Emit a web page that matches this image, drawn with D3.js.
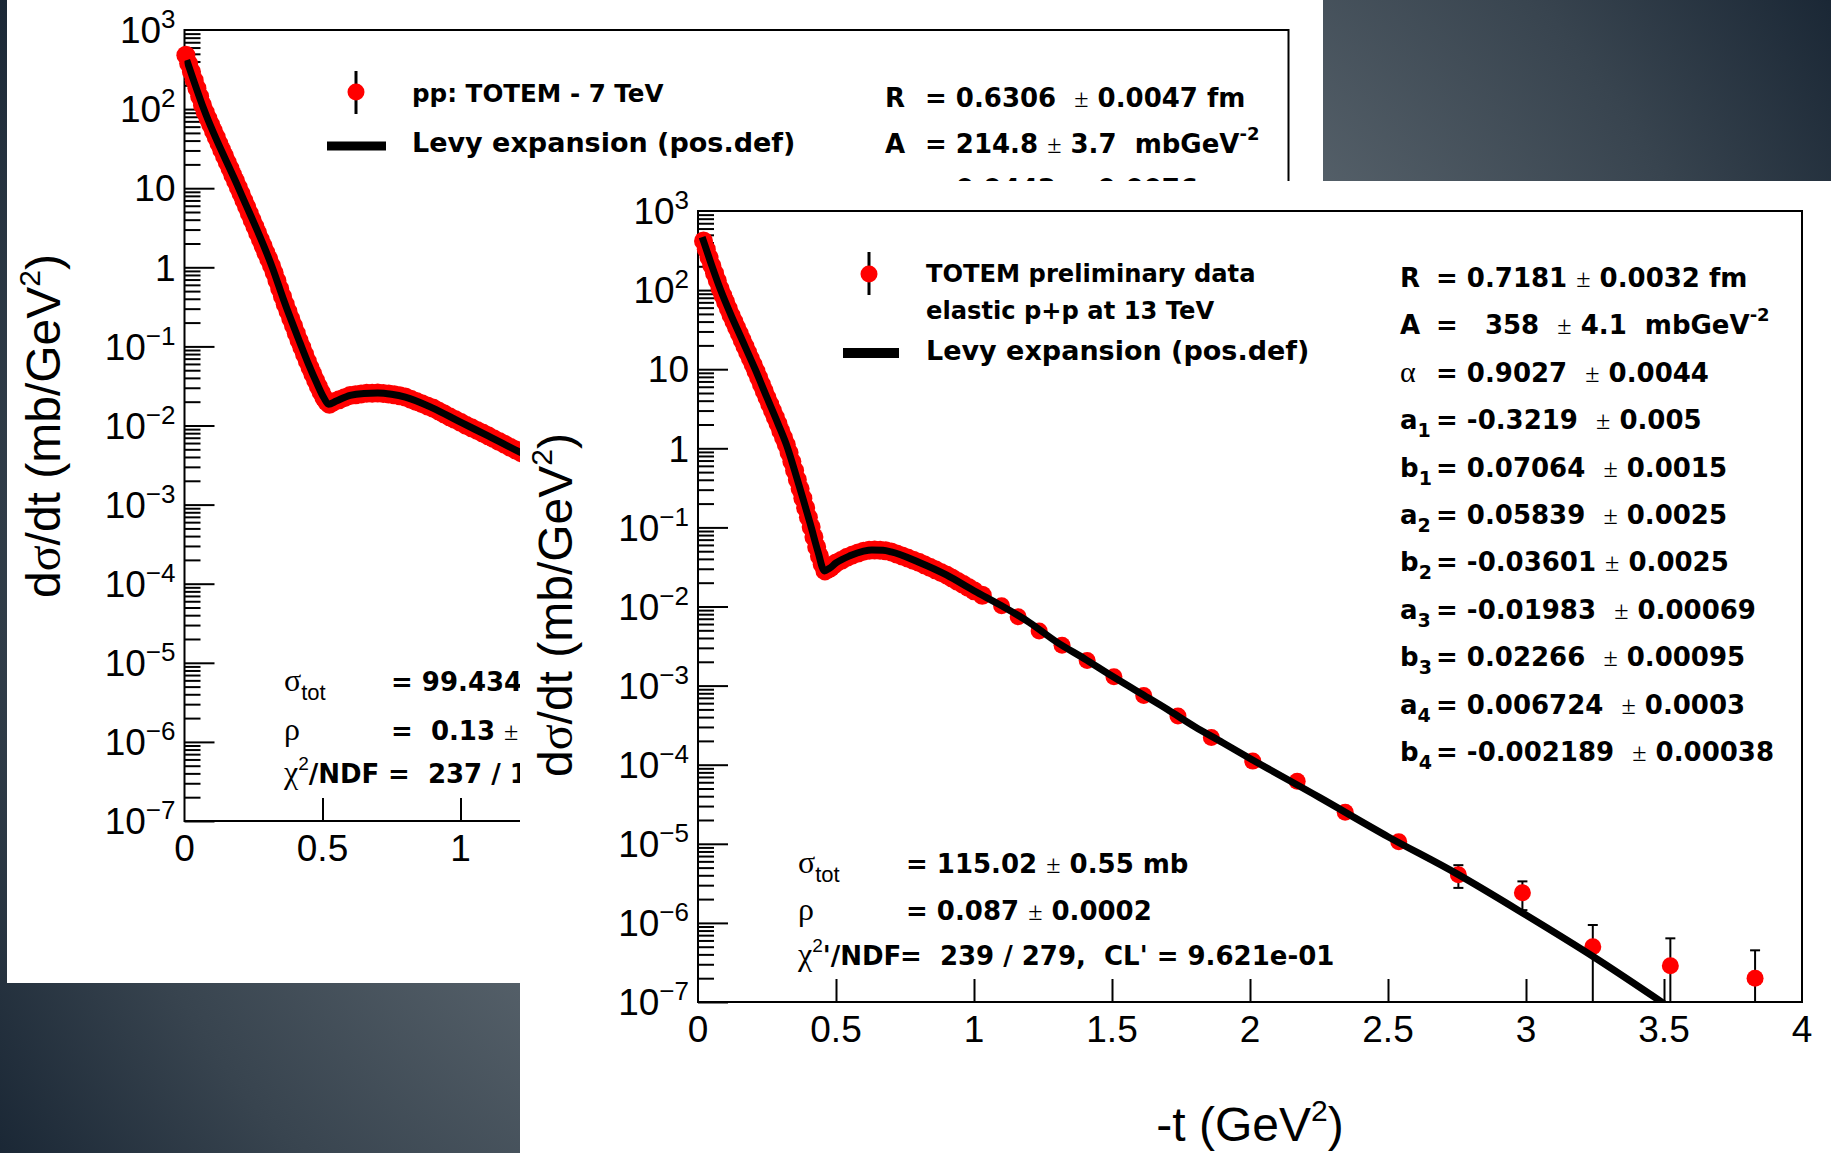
<!DOCTYPE html>
<html>
<head>
<meta charset="utf-8">
<script src="https://cdn.jsdelivr.net/npm/d3@7/dist/d3.min.js"></script>
<style>
html,body{margin:0;padding:0;background:#1b2836;}
svg{display:block;}
text{white-space:pre;}
.tk{font-family:"Liberation Sans",Arial,sans-serif;font-size:37px;fill:#000;}
.ti{font-family:"Liberation Sans",Arial,sans-serif;font-size:48px;fill:#000;}
.bd{font-family:"DejaVu Sans",sans-serif;font-weight:bold;fill:#000;}
.gr{font-family:"Liberation Serif","DejaVu Serif",serif;font-weight:normal;}
.rg{font-family:"Liberation Sans",Arial,sans-serif;font-weight:normal;}
</style>
</head>
<body>
<svg id="chart" width="1831" height="1153" xmlns="http://www.w3.org/2000/svg"></svg>
<script>
// ---------------- axis ticks / labels ----------------
const xTickVals = [0, 0.5, 1, 1.5, 2, 2.5, 3, 3.5, 4];
const xTickLabels = ["0", "0.5", "1", "1.5", "2", "2.5", "3", "3.5", "4"];
const yDecades = [-7, -6, -5, -4, -3, -2, -1, 0, 1, 2, 3];

// ---------------- 7 TeV (left, partly hidden) ----------------
const t7 = [0.005,0.015,0.025,0.035,0.045,0.055,0.065,0.075,0.085,0.095,
  0.105,0.115,0.125,0.135,0.145,0.155,0.165,0.175,0.185,0.195,
  0.205,0.215,0.225,0.235,0.245,0.255,0.265,0.275,0.285,0.295,
  0.305,0.315,0.325,0.335,0.345,0.355,0.365,0.375,0.385,0.395,
  0.405,0.415,0.425,0.435,0.445,0.455,0.465,0.475,0.485,0.495,
  0.505,0.515,0.525,
  0.54,0.56,0.58,0.60,0.62,0.64,0.66,0.68,0.70,0.72,0.74,0.76,0.78,0.80,
  0.82,0.84,0.86,0.88,0.90,0.92,0.94,0.96,0.98,1.00,1.02,1.04,1.06,1.08,1.10,
  1.12,1.14,1.16,1.18,1.20,1.22,1.24,1.26,1.28,1.30];
const ds7 = [479,376,296,232,183,144,113,91.2,76.0,63.4,
  52.8,44.0,36.6,30.5,25.5,21.2,17.7,14.7,12.3,10.2,
  8.49,7.02,5.81,4.80,3.97,3.28,2.72,2.24,1.86,1.53,
  1.27,1.05,0.851,0.676,0.537,0.427,0.342,0.277,0.224,0.182,
  0.147,0.119,0.0973,0.0796,0.0652,0.0537,0.0447,0.0372,0.0312,0.0264,
  0.0224,0.0200,0.0186,
  0.0200,0.0211,0.0225,0.0240,0.0245,0.0251,0.0255,0.0256,0.0257,0.0254,0.0250,0.0244,0.0237,0.0229,
  0.0215,0.0201,0.0189,0.0177,0.0166,0.0153,0.0141,0.0129,0.0119,0.0110,0.0101,0.00938,0.00867,0.00802,0.00741,
  0.00682,0.00628,0.00578,0.00532,0.00490,0.00452,0.00418,0.00386,0.00358,0.00331];
const fitT7 = [0.008,0.07,0.2,0.32,0.36,0.419,0.45,0.48,0.505,0.522,0.55,0.6,0.65,0.7,0.75,0.8,0.9,1.0,1.1,1.217,1.3];
const fit7 = [417,100,9.33,0.955,0.380,0.110,0.0589,0.0339,0.0224,0.0186,0.0204,0.0240,0.0254,0.0257,0.0248,0.0229,0.0166,0.0110,0.00741,0.00457,0.00331];

// ---------------- 13 TeV (right) ----------------
const t13 = [0.02,0.03,0.04,0.05,0.06,0.07,0.08,0.09,0.10,0.11,
  0.12,0.13,0.14,0.15,0.16,0.17,0.18,0.19,0.20,0.21,
  0.22,0.23,0.24,0.25,0.26,0.27,0.28,0.29,0.30,0.31,
  0.32,0.33,0.34,0.35,0.36,0.37,0.38,0.39,0.40,0.41,
  0.42,0.43,0.44,0.45,0.46,0.47,0.48,0.49,0.50,
  0.52,0.54,0.56,0.58,0.60,0.62,0.64,0.66,0.68,0.70,
  0.72,0.74,0.76,0.78,0.80,0.82,0.84,0.86,0.88,0.90,
  0.92,0.94,0.96,0.98,1.00,1.03];
const ds13 = [417,329,259,204,163,131,104,85.7,70.6,58.1,
  47.9,40.1,33.5,28.0,23.4,19.5,16.3,13.6,11.4,9.44,
  7.78,6.41,5.30,4.37,3.61,2.99,2.47,2.04,1.66,1.36,
  1.11,0.879,0.679,0.525,0.401,0.307,0.234,0.177,0.134,0.101,
  0.0757,0.0566,0.0435,0.0342,0.0282,0.0295,0.0309,0.0331,0.0355,
  0.0385,0.0419,0.0449,0.0474,0.0501,0.0513,0.0518,0.0514,0.0505,0.0490,
  0.0461,0.0435,0.0409,0.0385,0.0363,0.0337,0.0313,0.0291,0.0270,0.0251,
  0.0229,0.0209,0.0191,0.0174,0.0158,0.0139];
const tTail13 = [1.10,1.16,1.236,1.319,1.41,1.507,1.615,1.739,1.86,2.01,2.171,2.345,2.539,2.755,2.987,3.242,3.523,3.83];
const dsTail13 = [0.0102,0.00741,0.00490,0.00324,0.00207,0.00129,7.50e-4,4.12e-4,2.21e-4,1.11e-4,6.17e-5,2.51e-5,1.06e-5,4.07e-6,2.40e-6,5.01e-7,2.88e-7,2.0e-7];
const errTail13 = [2e-4,1.5e-4,1e-4,7e-5,5e-5,3e-5,2e-5,1.2e-5,7e-6,4e-6,2.5e-6,1.3e-6,8e-7,1.3e-6,9.5e-7,4.4e-7,3.5e-7,2.5e-7];
const fitT13 = [0.015,0.02,0.05,0.082,0.12,0.16,0.207,0.25,0.29,0.325,0.35,0.38,0.408,0.435,0.458,0.475,0.5,0.55,0.6,0.63,0.67,0.7,0.8,0.9,1.0,1.1,1.2,1.3,1.4,1.5,1.6,1.7,1.8,1.9,2.0,2.25,2.5,2.75,3.0,3.25,3.5];
const fit13 = [468,417,204,100,47.9,23.4,10.0,4.37,2.04,1.00,0.525,0.234,0.107,0.0490,0.0282,0.0302,0.0355,0.0437,0.0501,0.0519,0.0513,0.0490,0.0363,0.0251,0.0158,0.0102,0.00631,0.00355,0.00219,0.00132,8.13e-4,5.01e-4,3.02e-4,1.91e-4,1.20e-4,3.89e-5,1.23e-5,4.17e-6,1.26e-6,3.63e-7,9.55e-8];

// ---------------- fit parameter boxes ----------------
const statNames13 = ["R","A","α","a","b","a","b","a","b","a","b"];
const statSubs13 = ["","","","1","1","2","2","3","3","4","4"];
const statVals13 = ["0.7181 ","  358  ","0.9027  ","-0.3219  ","0.07064  ","0.05839  ","-0.03601 ","-0.01983  ","0.02266  ","0.006724  ","-0.002189  "];
const statErrs13 = ["0.0032 fm","4.1  mbGeV","0.0044","0.005","0.0015","0.0025","0.0025","0.00069","0.00095","0.0003","0.00038"];
const statSups13 = ["","-2","","","","","","","","",""];
const statNames7 = ["R","A","α"];
const statVals7 = ["0.6306  ","214.8 ","0.9442  "];
const statErrs7 = ["0.0047 fm","3.7  mbGeV","0.0076"];
const statSups7 = ["","-2",""];

// ---------------- drawing ----------------
const svg = d3.select("#chart");
const defs = svg.append("defs");
const rg = defs.append("radialGradient").attr("id","bg").attr("gradientUnits","userSpaceOnUse")
  .attr("cx",915).attr("cy",576).attr("r",1085);
[[0,"#606b74"],[0.5,"#56616a"],[0.78,"#38444f"],[1,"#1a2735"]].forEach(s =>
  rg.append("stop").attr("offset",s[0]).attr("stop-color",s[1]));
defs.append("clipPath").attr("id","leftClip").append("path").attr("d","M7,0H1323V181H520V983H7Z");
svg.append("rect").attr("width",1831).attr("height",1153).attr("fill","url(#bg)");

function rich(g, x, y, size, segs, cls, anchor) {
  const t = g.append("text").attr("x", x).attr("y", y).attr("class", cls || "bd")
    .style("font-size", size + "px").attr("xml:space","preserve");
  if (anchor) t.attr("text-anchor", anchor);
  let shift = 0;
  segs.forEach(s => {
    const sp = t.append("tspan").text(s.t);
    if (s.c) sp.attr("class", s.c);
    if (s.fs) sp.style("font-size", s.fs + "px");
    const target = s.sh || 0;
    if (target - shift !== 0) sp.attr("dy", target - shift);
    shift = target;
  });
  return t;
}

const minorVals = [];
for (let e = -7; e < 3; e++) for (let k = 2; k <= 9; k++) minorVals.push(k * Math.pow(10, e));
minorVals.push(1e2);
const majorVals = [1e-7,1e-6,1e-5,1e-4,1e-3,1e-2,1e-1,1,10];

function drawPlot(root, P, id) {
  const x = d3.scaleLinear().domain([0, 4]).range([P.L, P.L + P.W]);
  const y = d3.scaleLog().domain([1e-7, 1e3]).range([P.T + P.H, P.T]);
  const g = root.append("g");
  defs.append("clipPath").attr("id", id).append("rect")
    .attr("x", P.L).attr("y", P.T).attr("width", P.W).attr("height", P.H);
  const clean = a => { a.select(".domain").remove(); a.selectAll("text").remove();
    a.selectAll("line").attr("stroke", "#000").attr("stroke-width", 2); };
  g.append("g").attr("transform", `translate(${P.L},0)`)
    .call(d3.axisLeft(y).tickValues(minorVals).tickSize(-16)).call(clean);
  g.append("g").attr("transform", `translate(${P.L},0)`)
    .call(d3.axisLeft(y).tickValues(majorVals).tickSize(-30)).call(clean);
  g.append("g").attr("transform", `translate(0,${P.T + P.H})`)
    .call(d3.axisBottom(x).tickValues(xTickVals.slice(1, -1)).tickSize(-23)).call(clean);
  g.append("rect").attr("x", P.L).attr("y", P.T).attr("width", P.W).attr("height", P.H)
    .attr("fill", "none").attr("stroke", "#000").attr("stroke-width", 2);
  yDecades.forEach(e => {
    const yy = y(Math.pow(10, e)) + 13.2;
    let segs;
    if (e === 0) segs = [{t: "1"}];
    else if (e === 1) segs = [{t: "10"}];
    else segs = [{t: "10"}, {t: (e < 0 ? "\u2212" + (-e) : "" + e), fs: 26, sh: -15}];
    rich(g, P.L - 9, yy, 37, segs, "tk", "end");
  });
  xTickVals.forEach((v, i) => {
    if (x(v) > P.xMax) return;
    g.append("text").attr("class", "tk").attr("x", x(v)).attr("y", P.T + P.H + 40)
      .attr("text-anchor", "middle").text(xTickLabels[i]);
  });
  return {x, y, g};
}

function drawData(g, x, y, ts, vs, r) {
  g.append("g").selectAll("circle").data(ts.map((t, i) => ({t, v: vs[i]}))).join("circle")
    .attr("cx", d => x(d.t)).attr("cy", d => y(d.v)).attr("r", r).attr("fill", "#ff0000");
}
function drawFit(g, x, y, ts, vs, clipId) {
  const line = d3.line().x(d => x(d.t)).y(d => y(d.v)).curve(d3.curveMonotoneX);
  g.append("path").attr("clip-path", `url(#${clipId})`)
    .datum(ts.map((t, i) => ({t, v: vs[i]})))
    .attr("d", line).attr("fill", "none").attr("stroke", "#000")
    .attr("stroke-width", 7).attr("stroke-linejoin", "round");
}

// ===== LEFT PANEL (7 TeV) =====
svg.append("rect").attr("x", 7).attr("y", 0).attr("width", 1316).attr("height", 983).attr("fill", "#fff");
const left = svg.append("g").attr("clip-path", "url(#leftClip)");
const PL = {L: 184.5, T: 30, W: 1104, H: 791, xMax: 520};
const A7 = drawPlot(left, PL, "clip7");
drawData(A7.g, A7.x, A7.y, t7, ds7, 9.5);
drawFit(A7.g, A7.x, A7.y, fitT7, fit7, "clip7");

rich(left, 0, 0, 48, [{t: "d"}, {t: "σ", c: "gr"}, {t: "/dt (mb/GeV"}, {t: "2", fs: 30, sh: -20}, {t: ")", sh: 0}], "ti", "middle")
  .attr("transform", "translate(60,426) rotate(-90)");

left.append("line").attr("x1", 356).attr("x2", 356).attr("y1", 71).attr("y2", 114).attr("stroke", "#000").attr("stroke-width", 3);
left.append("circle").attr("cx", 356).attr("cy", 92).attr("r", 8.5).attr("fill", "#ff0000");
left.append("rect").attr("x", 327).attr("y", 141.5).attr("width", 59).attr("height", 9).attr("fill", "#000");
rich(left, 412, 102, 24.6, [{t: "pp: TOTEM - 7 TeV"}]);
rich(left, 412, 152, 27, [{t: "Levy expansion (pos.def)"}]);

const base7 = [107, 153, 198];
statNames7.forEach((n, i) => {
  rich(left, 885, base7[i], 26, [{t: n, c: n === "α" ? "gr" : null, fs: n === "α" ? 30 : null}]);
  const segs = [{t: "= " + statVals7[i]}, {t: "±", c: "gr"}, {t: " " + statErrs7[i]}];
  if (statSups7[i]) segs.push({t: statSups7[i], fs: 18, sh: -13});
  rich(left, 925, base7[i], 26, segs);
});
rich(left, 284, 691, 26, [{t: "σ", c: "gr", fs: 32}, {t: "tot", c: "rg", fs: 22, sh: 9}]);
rich(left, 391, 691, 26, [{t: "= 99.434"}]);
rich(left, 284, 740, 26, [{t: "ρ", c: "gr", fs: 32}]);
rich(left, 391, 740, 26, [{t: "=  0.13 "}, {t: "±", c: "gr"}]);
rich(left, 284, 783, 26, [{t: "χ", c: "gr", fs: 32}, {t: "2", c: "rg", fs: 19, sh: -13}, {t: "/NDF", sh: 0}]);
rich(left, 388, 783, 26, [{t: "=  237 / 1"}]);

// ===== RIGHT PANEL (13 TeV) =====
svg.append("rect").attr("x", 520).attr("y", 181).attr("width", 1311).attr("height", 972).attr("fill", "#fff");
const right = svg.append("g");
const PR = {L: 698, T: 211, W: 1104, H: 791, xMax: 2000};
const A13 = drawPlot(right, PR, "clip13");
const eb = A13.g.append("g").attr("stroke", "#000").attr("stroke-width", 2);
tTail13.forEach((t, i) => {
  const v = dsTail13[i], e = errTail13[i];
  const lo = Math.max(v - e, 1e-7), hi = v + e;
  const cx = A13.x(t);
  eb.append("line").attr("x1", cx).attr("x2", cx).attr("y1", A13.y(lo)).attr("y2", A13.y(hi));
  eb.append("line").attr("x1", cx - 5).attr("x2", cx + 5).attr("y1", A13.y(hi)).attr("y2", A13.y(hi));
  if (v - e > 1e-7) eb.append("line").attr("x1", cx - 5).attr("x2", cx + 5).attr("y1", A13.y(lo)).attr("y2", A13.y(lo));
});
drawData(A13.g, A13.x, A13.y, t13, ds13, 9.5);
drawData(A13.g, A13.x, A13.y, tTail13, dsTail13, 8.5);
drawFit(A13.g, A13.x, A13.y, fitT13, fit13, "clip13");

rich(right, 0, 0, 48, [{t: "d"}, {t: "σ", c: "gr"}, {t: "/dt (mb/GeV"}, {t: "2", fs: 30, sh: -20}, {t: ")", sh: 0}], "ti", "middle")
  .attr("transform", "translate(572,605) rotate(-90)");
rich(right, 1250, 1141, 48, [{t: "-t (GeV"}, {t: "2", fs: 30, sh: -20}, {t: ")", sh: 0}], "ti", "middle");

right.append("line").attr("x1", 869).attr("x2", 869).attr("y1", 252).attr("y2", 295).attr("stroke", "#000").attr("stroke-width", 3);
right.append("circle").attr("cx", 869).attr("cy", 274).attr("r", 8.5).attr("fill", "#ff0000");
right.append("rect").attr("x", 843).attr("y", 348).attr("width", 56).attr("height", 10).attr("fill", "#000");
rich(right, 926, 282, 24.2, [{t: "TOTEM preliminary data"}]);
rich(right, 926, 319, 24.2, [{t: "elastic p+p at 13 TeV"}]);
rich(right, 926, 360, 27, [{t: "Levy expansion (pos.def)"}]);

statNames13.forEach((n, i) => {
  const yb = 287 + 47.4 * i;
  const lab = [{t: n, c: n === "α" ? "gr" : null, fs: n === "α" ? 30 : null}];
  if (statSubs13[i]) lab.push({t: statSubs13[i], fs: 19, sh: 8});
  rich(right, 1400, yb, 26, lab);
  const segs = [{t: "= " + statVals13[i]}, {t: "±", c: "gr"}, {t: " " + statErrs13[i]}];
  if (statSups13[i]) segs.push({t: statSups13[i], fs: 18, sh: -13});
  rich(right, 1436, yb, 26, segs);
});

rich(right, 798, 873, 26, [{t: "σ", c: "gr", fs: 32}, {t: "tot", c: "rg", fs: 22, sh: 9}]);
rich(right, 906, 873, 26, [{t: "= 115.02 "}, {t: "±", c: "gr"}, {t: " 0.55 mb"}]);
rich(right, 798, 920, 26, [{t: "ρ", c: "gr", fs: 32}]);
rich(right, 906, 920, 26, [{t: "= 0.087 "}, {t: "±", c: "gr"}, {t: " 0.0002"}]);
rich(right, 798, 965, 26, [{t: "χ", c: "gr", fs: 32}, {t: "2", c: "rg", fs: 19, sh: -13}, {t: "'/NDF", sh: 0}]);
rich(right, 900, 965, 26, [{t: "=  239 / 279,  CL' = 9.621e-01"}]);
</script>
</body>
</html>
